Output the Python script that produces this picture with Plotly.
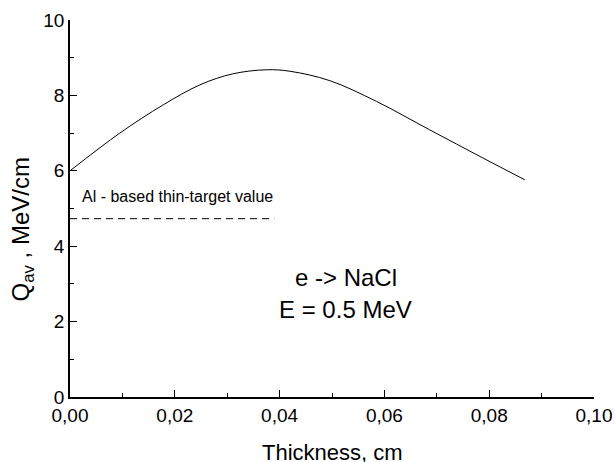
import plotly.graph_objects as go

thickness = [0.0, 0.0095, 0.0178, 0.0248, 0.0310, 0.0375, 0.0420, 0.0496, 0.0585, 0.0686, 0.0788, 0.0868]
q_av = [6.0, 7.0, 7.75, 8.28, 8.57, 8.68, 8.64, 8.39, 7.84, 7.09, 6.34, 5.76]
thin_x = [0.0, 0.0390]
thin_y = [4.73, 4.73]

font = "Arial, Liberation Sans, sans-serif"
fig = go.Figure()
fig.add_trace(go.Scatter(x=thickness, y=q_av, mode="lines", line=dict(color="black", width=1, shape="spline"), showlegend=False))
fig.add_trace(go.Scatter(x=thin_x, y=thin_y, mode="lines", line=dict(color="black", width=1, dash="7px,5px"), showlegend=False))

fig.add_annotation(x=0.0019, y=5.31, xref="x", yref="y", text="Al - based thin-target value", showarrow=False,
                   xanchor="left", yanchor="middle", font=dict(family=font, size=16, color="black"))
fig.add_annotation(x=0.0526, y=3.17, xref="x", yref="y", text="e -> NaCl", showarrow=False,
                   xanchor="center", yanchor="middle", font=dict(family=font, size=24, color="black"))
fig.add_annotation(x=0.0526, y=2.32, xref="x", yref="y", text="E = 0.5 MeV", showarrow=False,
                   xanchor="center", yanchor="middle", font=dict(family=font, size=24, color="black"))
# axis titles
fig.add_annotation(x=0.5, y=-0.146, xref="paper", yref="paper", text="Thickness, cm", showarrow=False,
                   xanchor="center", yanchor="middle", font=dict(family=font, size=22, color="black"))
fig.add_annotation(x=-0.09, y=0.444, xref="paper", yref="paper", text="Q<sub>av</sub> , MeV/cm", showarrow=False,
                   textangle=-90, xanchor="center", yanchor="middle", font=dict(family=font, size=24, color="black"))

fig.update_layout(
    width=615, height=462, separators=",.",
    margin=dict(l=70, r=21, t=20, b=65),
    paper_bgcolor="white", plot_bgcolor="white",
    font=dict(family=font, color="black"),
    xaxis=dict(range=[0, 0.10], tickvals=[0, 0.02, 0.04, 0.06, 0.08, 0.10], tickformat=".2f", automargin=False,
               showline=True, linecolor="black", linewidth=1.5, ticks="inside", ticklen=7, tickcolor="black",
               minor=dict(tickvals=[0.01, 0.03, 0.05, 0.07, 0.09], ticks="inside", ticklen=4, tickcolor="black"),
               showgrid=False, zeroline=False, tickfont=dict(size=19)),
    yaxis=dict(range=[0, 10], tickvals=[0, 2, 4, 6, 8, 10], automargin=False,
               showline=True, linecolor="black", linewidth=1.5, ticks="inside", ticklen=7, tickcolor="black",
               minor=dict(tickvals=[1, 3, 5, 7, 9], ticks="inside", ticklen=4, tickcolor="black"),
               showgrid=False, zeroline=False, tickfont=dict(size=19)),
)
fig.write_html("out.html", config={"displayModeBar": False},
               post_script="document.body.style.margin='0';document.body.style.overflow='hidden';")
